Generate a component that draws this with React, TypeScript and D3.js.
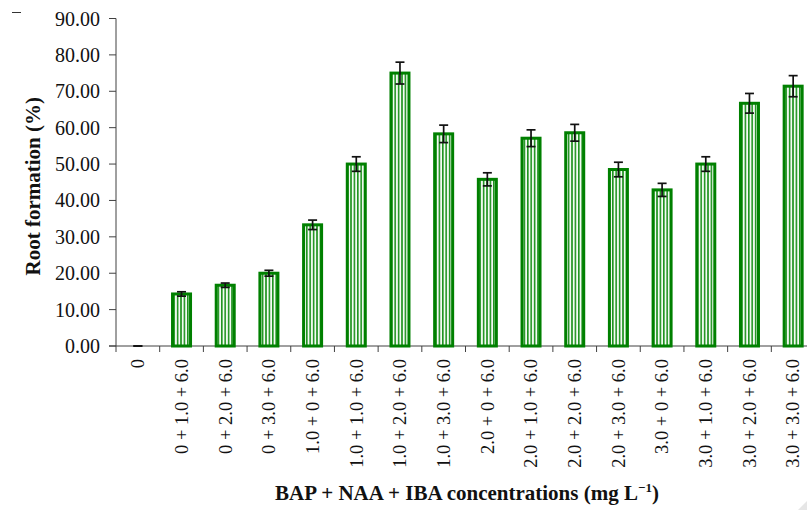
import React from "react";
import * as d3 from "d3";

const categories = [
  "0",
  "0 + 1.0 + 6.0",
  "0 + 2.0 + 6.0",
  "0 + 3.0 + 6.0",
  "1.0 + 0 + 6.0",
  "1.0 + 1.0 + 6.0",
  "1.0 + 2.0 + 6.0",
  "1.0 + 3.0 + 6.0",
  "2.0 + 0 + 6.0",
  "2.0 + 1.0 + 6.0",
  "2.0 + 2.0 + 6.0",
  "2.0 + 3.0 + 6.0",
  "3.0 + 0 + 6.0",
  "3.0 + 1.0 + 6.0",
  "3.0 + 2.0 + 6.0",
  "3.0 + 3.0 + 6.0",
];
const rootFormation = [0, 14.3, 16.7, 20.0, 33.3, 50.0, 75.0, 58.3, 45.8, 57.1, 58.6, 48.5, 42.9, 50.0, 66.7, 71.4];
const errors = [0, 0.6, 0.6, 0.8, 1.3, 2.0, 3.0, 2.4, 1.8, 2.3, 2.3, 2.0, 1.8, 2.0, 2.7, 2.9];
const yTicks = [0, 10, 20, 30, 40, 50, 60, 70, 80, 90];

const W = 807;
const H = 510;
const left = 116;
const right = 815; // axis runs past the right edge, as in the source
const top = 18.5;
const bottom = 346;

const serif = "'Palatino Linotype', 'Book Antiqua', Palatino, 'Liberation Serif', serif";
const axisColor = "#404040";
const green = "#008000";

export default function App() {
  const x = d3.scaleBand<string>().domain(categories).range([left, right]).padding(0);
  const y = d3.scaleLinear().domain([0, 90]).range([bottom, top]);
  const fmt = d3.format(".2f");
  const barW = 18;
  const step = x.step();
  const boundaries = d3.range(categories.length + 1).map((i) => left + i * step);

  return (
    <svg width={W} height={H} style={{ position: "absolute", left: 0, top: 0, background: "#fff" }}>
      <defs>
        <pattern id="stripes" patternUnits="userSpaceOnUse" width={3.4} height={10}>
          <rect width={3.4} height={10} fill="#f4fbf4" />
          <rect width={1.6} height={10} fill="#1f931f" />
        </pattern>
      </defs>

      {/* stray mark top-left */}
      <line x1={12} x2={21} y1={12.5} y2={12.5} stroke="#333" strokeWidth={1} />

      {/* y axis */}
      <line x1={left} x2={left} y1={y(90)} y2={y(0)} stroke={axisColor} strokeWidth={1} />
      {yTicks.map((t) => (
        <g key={t}>
          <line x1={left - 7} x2={left} y1={y(t)} y2={y(t)} stroke={axisColor} strokeWidth={1} />
          <text
            x={left - 16}
            y={y(t)}
            dy="0.35em"
            textAnchor="end"
            fontFamily={serif}
            fontSize={20}
            fill="#111"
          >
            {fmt(t)}
          </text>
        </g>
      ))}

      {/* x axis */}
      <line x1={left - 7} x2={right} y1={bottom} y2={bottom} stroke={axisColor} strokeWidth={1} />
      {boundaries.map((b, i) => (
        <line key={i} x1={b} x2={b} y1={bottom} y2={bottom + 6} stroke={axisColor} strokeWidth={1} />
      ))}

      {/* bars */}
      {categories.map((c, i) => {
        const cx = (x(c) ?? 0) + x.bandwidth() / 2;
        const v = rootFormation[i];
        if (v <= 0) return null;
        return (
          <rect
            key={c}
            x={cx - barW / 2}
            y={y(v)}
            width={barW}
            height={y(0) - y(v)}
            fill="url(#stripes)"
            stroke={green}
            strokeWidth={3}
          />
        );
      })}

      {/* error bars */}
      {categories.map((c, i) => {
        const cx = (x(c) ?? 0) + x.bandwidth() / 2;
        const v = rootFormation[i];
        const e = errors[i];
        return (
          <g key={c} stroke="#111" strokeWidth={1.7}>
            <line x1={cx} x2={cx} y1={y(v + e)} y2={y(v - e)} />
            <line x1={cx - 4.5} x2={cx + 4.5} y1={y(v + e)} y2={y(v + e)} />
            <line x1={cx - 4.5} x2={cx + 4.5} y1={y(v - e)} y2={y(v - e)} />
          </g>
        );
      })}

      {/* x tick labels */}
      {categories.map((c) => {
        const cx = (x(c) ?? 0) + x.bandwidth() / 2;
        return (
          <text
            key={c}
            transform={`translate(${cx},${bottom + 13}) rotate(-90)`}
            dy="0.34em"
            textAnchor="end"
            fontFamily={serif}
            fontSize={18.5}
            fill="#111"
          >
            {c}
          </text>
        );
      })}

      {/* y title */}
      <text
        transform={`translate(33,${(top + bottom) / 2 + 4}) rotate(-90)`}
        dy="0.34em"
        textAnchor="middle"
        fontFamily={serif}
        fontWeight="bold"
        fontSize={21}
        fill="#111"
      >
        Root formation (%)
      </text>

      {/* x title */}
      <text x={467} y={500} textAnchor="middle" fontFamily={serif} fontWeight="bold" fontSize={21} fill="#111">
        BAP + NAA + IBA concentrations (mg L
        <tspan dy={-8} fontSize={13}>−1</tspan>
        <tspan dy={8}>)</tspan>
      </text>

      {/* faint corner mark */}
      <polygon points="807,501 807,510 798,510" fill="#e6e6e6" />
    </svg>
  );
}
